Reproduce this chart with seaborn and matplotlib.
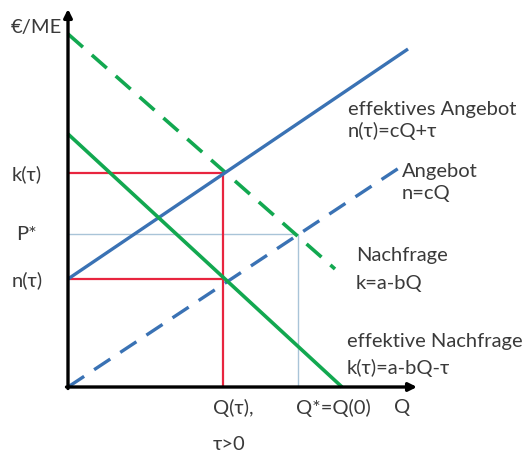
import matplotlib
matplotlib.use("Agg")
import matplotlib.pyplot as plt
import seaborn as sns
import pandas as pd

# Line endpoints (Q, price) in chart units
eff_supply_q = [0, 340]
eff_supply_p = [108, 338]
supply_q = [0, 337]
supply_p = [0, 223]
demand_q = [0, 267]
demand_p = [353, 118]
eff_demand_q = [0, 274]
eff_demand_p = [253, 0]

q_tau = 155
k_tau = 214
n_tau = 108
q_star = 230
p_star = 153

y_tick_labels = ["k(τ)", "P*", "n(τ)"]
y_tick_values = [k_tau, p_star, n_tau]

sns.set_style("white")
plt.rcParams['font.family'] = ['Lato', 'DejaVu Sans']

fig = plt.figure(figsize=(5.31, 4.56), dpi=100)
ax = fig.add_axes([0, 0, 1, 1])
ax.set_xlim(-68, 463)
ax.set_ylim(-68, 388)
ax.axis("off")

blue = "#3A72B4"
green = "#12A850"
red = "#E8253F"
thin = "#A9C4D8"

def line(q, p, color, lw, dashes=None):
    df = pd.DataFrame({"Q": q, "P": p})
    sns.lineplot(data=df, x="Q", y="P", color=color, linewidth=lw, ax=ax,
                 sort=False, estimator=None)
    ln = ax.lines[-1]
    if dashes:
        ln.set_dashes(dashes)
    ln.set_solid_capstyle("butt")
    return ln

# thin equilibrium guides
line([0, q_star], [p_star, p_star], thin, 1.0)
line([q_star, q_star], [0, p_star], thin, 1.0)

# red tax lines
line([0, q_tau], [k_tau, k_tau], red, 1.6)
line([0, q_tau], [n_tau, n_tau], red, 1.6)
line([q_tau, q_tau], [0, k_tau], red, 1.6)

line(supply_q, supply_p, blue, 2.4, dashes=(5.8, 3.6))
line(demand_q, demand_p, green, 2.6, dashes=(5.5, 3.3))
line(eff_supply_q, eff_supply_p, blue, 2.4)
line(eff_demand_q, eff_demand_p, green, 2.6)

# axes with arrows
ax.annotate("", xy=(0, 378), xytext=(0, -1.5),
            arrowprops=dict(arrowstyle="-|>", color="black", lw=2.4,
                            mutation_scale=12, shrinkA=0, shrinkB=0))
ax.annotate("", xy=(349, 0), xytext=(-1.5, 0),
            arrowprops=dict(arrowstyle="-|>", color="black", lw=2.4,
                            mutation_scale=12, shrinkA=0, shrinkB=0))

fs = 14.5
tc = "#3a3a3a"
ax.text(-6, 360, "€/ME", ha="right", va="center", fontsize=fs, color=tc)
for lab, v in zip(y_tick_labels, y_tick_values):
    ax.text(-41, v, lab, ha="center", va="center", fontsize=fs, color=tc)

ax.text(280, 278, "effektives Angebot", ha="left", va="center", fontsize=fs, color=tc)
ax.text(280, 257, "n(τ)=cQ+τ", ha="left", va="center", fontsize=fs, color=tc)
ax.text(334, 216, "Angebot", ha="left", va="center", fontsize=fs, color=tc)
ax.text(334, 195, "n=cQ", ha="left", va="center", fontsize=fs, color=tc)
ax.text(288, 133, "Nachfrage", ha="left", va="center", fontsize=fs, color=tc)
ax.text(288, 105, "k=a-bQ", ha="left", va="center", fontsize=fs, color=tc)
ax.text(279, 46, "effektive Nachfrage", ha="left", va="center", fontsize=fs, color=tc)
ax.text(279, 20, "k(τ)=a-bQ-τ", ha="left", va="center", fontsize=fs, color=tc)

ax.text(q_tau - 10, -20, "Q(τ),", ha="left", va="center", fontsize=fs, color=tc)
ax.text(q_tau - 10, -57, "τ>0", ha="left", va="center", fontsize=fs, color=tc)
ax.text(q_star - 2, -20, "Q*=Q(0)", ha="left", va="center", fontsize=fs, color=tc)
ax.text(334, -20, "Q", ha="center", va="center", fontsize=fs, color=tc)

fig.savefig("out.png", dpi=100)
